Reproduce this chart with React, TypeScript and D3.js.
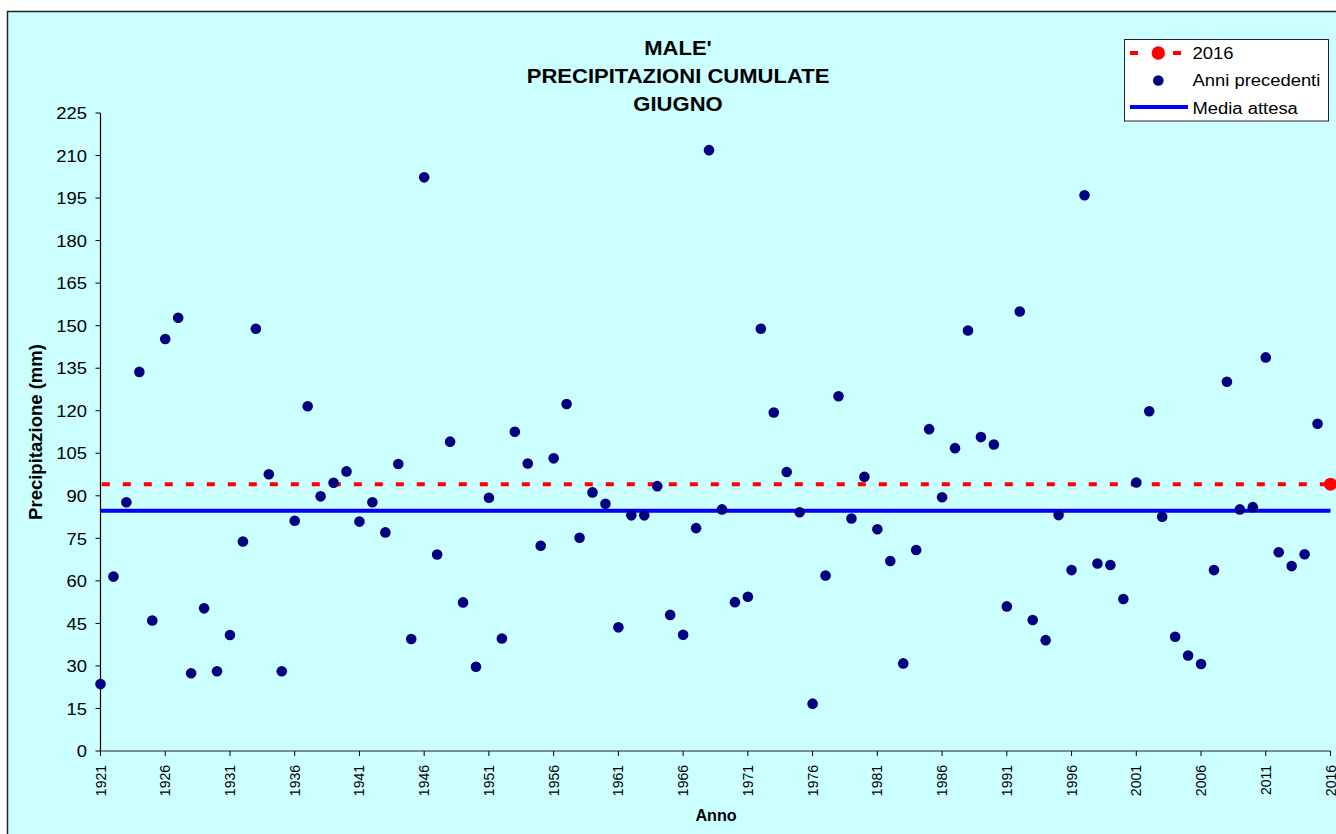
import React from "react";
import * as d3 from "d3";

const years: number[] = d3.range(1921, 2016);
const previousValues: number[] = [
  23.6, 61.5, 87.7, 133.7, 46.0, 145.3, 152.8, 27.4, 50.3, 28.1,
  40.9, 73.9, 148.9, 97.6, 28.1, 81.2, 121.6, 89.8, 94.6, 98.6,
  80.9, 87.7, 77.1, 101.2, 39.5, 202.3, 69.3, 109.1, 52.4, 29.7,
  89.3, 39.7, 112.6, 101.4, 72.4, 103.2, 122.4, 75.2, 91.2, 87.2,
  43.6, 83.1, 83.1, 93.4, 48.0, 41.0, 78.6, 211.9, 85.2, 52.5,
  54.4, 148.9, 119.4, 98.4, 84.2, 16.7, 61.9, 125.1, 82.0, 96.7,
  78.2, 67.0, 30.9, 70.9, 113.5, 89.5, 106.8, 148.3, 110.7, 108.1,
  51.0, 155.0, 46.2, 39.1, 83.2, 63.8, 196.0, 66.1, 65.6, 53.6,
  94.7, 119.8, 82.6, 40.3, 33.7, 30.7, 63.8, 130.2, 85.2, 86.0,
  138.8, 70.1, 65.2, 69.4, 115.4,
];
const currentYear = 2016;
const currentValue = 94.1;
const expectedMean = 84.7;
const yTicks: number[] = d3.range(0, 226, 15);
const xTicks: number[] = d3.range(1921, 2017, 5);
const titleLines: string[] = ["MALE'", "PRECIPITAZIONI CUMULATE", "GIUGNO"];
const legendLabels: string[] = ["2016", "Anni precedenti", "Media attesa"];

const FONT = "'Liberation Sans', Arial, Helvetica, sans-serif";

function SText(props: {
  x: number; y: number; size: number; sx?: number; bold?: boolean;
  anchor?: "start" | "middle" | "end"; rotate?: number; children: React.ReactNode; fill?: string;
}) {
  const { x, y, size, sx = 1, bold, anchor = "start", rotate = 0, children, fill = "#000" } = props;
  return (
    <text
      transform={`translate(${x},${y}) rotate(${rotate}) scale(${sx},1)`}
      fontFamily={FONT}
      fontSize={size}
      fontWeight={bold ? "bold" : "normal"}
      textAnchor={anchor}
      fill={fill}
    >
      {children}
    </text>
  );
}

export default function App() {
  const W = 1336, H = 834;
  const x = d3.scaleLinear().domain([1921, 2016]).range([100.5, 1330.5]);
  const y = d3.scaleLinear().domain([0, 225]).range([751, 113]);
  const bg = "#CCFFFF";

  return (
    <svg width={W} height={H} style={{ position: "absolute", left: 0, top: 0, display: "block" }}>
      <rect x={0} y={0} width={W} height={H} fill="#fff" />
      <rect x={7.5} y={11.5} width={W + 10} height={H + 10} fill={bg} stroke="#222" strokeWidth={1.5} />

      {/* title */}
      {titleLines.map((t, i) => (
        <SText key={t} x={678} y={55 + i * 27.8} size={19.5} sx={1.13} bold anchor="middle">{t}</SText>
      ))}

      {/* y axis */}
      <line x1={x(1921)} x2={x(1921)} y1={y(225)} y2={y(0)} stroke="#000" strokeWidth={1.2} />
      {yTicks.map((v) => (
        <g key={v}>
          <line x1={x(1921) - 5} x2={x(1921)} y1={y(v)} y2={y(v)} stroke="#000" strokeWidth={1} />
          <SText x={87} y={y(v) + 6.2} size={17.2} sx={1.07} anchor="end">{v}</SText>
        </g>
      ))}
      <SText x={41.5} y={432} size={18.5} bold anchor="middle" rotate={-90}>Precipitazione (mm)</SText>

      {/* x axis */}
      <line x1={x(1921)} x2={x(2016)} y1={y(0)} y2={y(0)} stroke="#666" strokeWidth={1.5} />
      {xTicks.map((t) => (
        <g key={t}>
          <line x1={x(t)} x2={x(t)} y1={y(0)} y2={y(0) + 5} stroke="#000" strokeWidth={1} />
          <SText x={x(t) + 5} y={765} size={14} anchor="end" rotate={-90}>{t}</SText>
        </g>
      ))}
      <SText x={716} y={821} size={17} sx={0.95} bold anchor="middle">Anno</SText>

      {/* reference lines */}
      <line x1={x(1921)} x2={x(2016)} y1={y(expectedMean)} y2={y(expectedMean)} stroke="#0000FF" strokeWidth={4} />
      <line
        x1={x(1921)} x2={x(2016)} y1={y(currentValue)} y2={y(currentValue)}
        stroke="#FF0000" strokeWidth={4} strokeDasharray="8,13" strokeDashoffset={19.7}
      />

      {/* points */}
      {years.map((yr, i) => (
        <circle key={yr} cx={x(yr)} cy={y(previousValues[i])} r={5.3} fill="#000080" />
      ))}
      <circle cx={x(currentYear)} cy={y(currentValue)} r={6.5} fill="#FF0000" />

      {/* legend */}
      <rect x={1124.5} y={39.5} width={204} height={81.5} fill="#fff" stroke="#222" strokeWidth={1} />
      <line x1={1130} x2={1138} y1={53} y2={53} stroke="#FF0000" strokeWidth={4} />
      <line x1={1173} x2={1181} y1={53} y2={53} stroke="#FF0000" strokeWidth={4} />
      <circle cx={1158.3} cy={53} r={6.7} fill="#FF0000" />
      <circle cx={1158.3} cy={80.5} r={5.3} fill="#000080" />
      <line x1={1130} x2={1188} y1={107} y2={107} stroke="#0000FF" strokeWidth={4} />
      {legendLabels.map((l, i) => (
        <SText key={l} x={1192.5} y={59 + i * 27.4} size={15.6} sx={1.18}>{l}</SText>
      ))}
    </svg>
  );
}
